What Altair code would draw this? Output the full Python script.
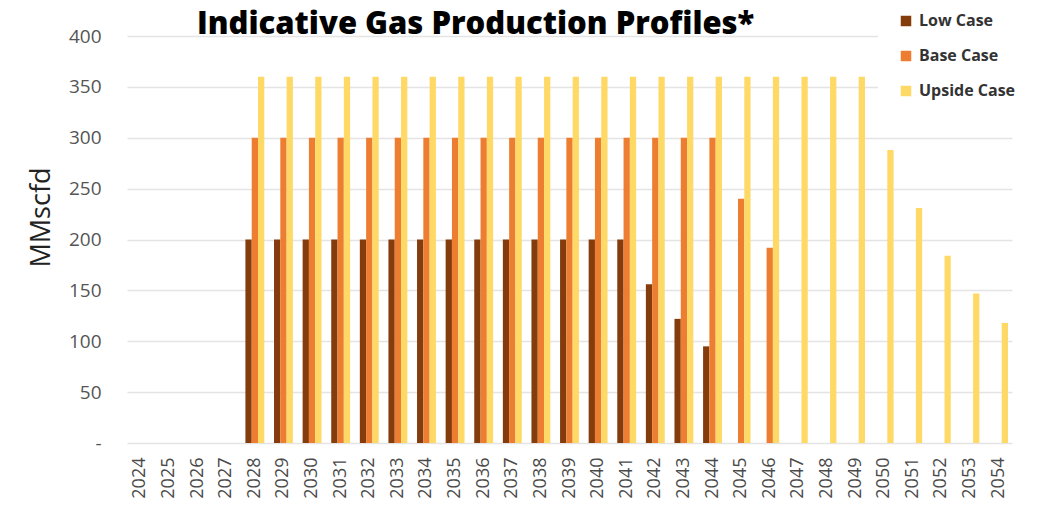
import altair as alt
import pandas as pd

chart_title = "Indicative Gas Production Profiles*"
years = [str(y) for y in range(2024, 2055)]
low_case = [None, None, None, None, 200, 200, 200, 200, 200, 200, 200, 200, 200, 200, 200, 200, 200, 200,
            156, 122, 95, None, None, None, None, None, None, None, None, None, None]
base_case = [None, None, None, None, 300, 300, 300, 300, 300, 300, 300, 300, 300, 300, 300, 300, 300, 300,
             300, 300, 300, 240, 192, None, None, None, None, None, None, None, None]
upside_case = [None, None, None, None, 360, 360, 360, 360, 360, 360, 360, 360, 360, 360, 360, 360, 360, 360,
               360, 360, 360, 360, 360, 360, 360, 360, 288, 231, 184, 147, 118]

series = ["Low Case", "Base Case", "Upside Case"]
colors = ["#843C0C", "#ED7D31", "#FFD966"]

rows = []
for name, vals in zip(series, [low_case, base_case, upside_case]):
    for y, v in zip(years, vals):
        rows.append({"Year": y, "Case": name, "Value": v})
df = pd.DataFrame(rows)
# keep all years for the axis: missing values plotted as zero-height bars
df["Value"] = df["Value"].fillna(0)

bars = alt.Chart(df).mark_bar().encode(
    x=alt.X("Year:N", sort=years,
            scale=alt.Scale(paddingInner=0.34, paddingOuter=0.14),
            axis=alt.Axis(title=None, labelAngle=-90, labelFontSize=18, labelFont="Open Sans",
                          labelColor="#4a4a4a", labelPadding=14, ticks=False, domain=False,
                          grid=False, labelBaseline="middle", labelAlign="right")),
    xOffset=alt.XOffset("Case:N", sort=series),
    y=alt.Y("Value:Q", scale=alt.Scale(domain=[0, 400], nice=False),
            axis=alt.Axis(title="MMscfd", values=list(range(0, 401, 50)),
                          labelExpr="datum.value == 0 ? '-' : datum.label",
                          labelFontSize=19, labelFont="Open Sans", labelColor="#555555",
                          labelPadding=26, ticks=False, domain=False,
                          gridColor="#e4e4e4", gridWidth=1.5,
                          titleFontSize=27, titleFont="Open Sans", titleFontWeight="normal",
                          titleColor="#222222", titlePadding=13, titleY=181)),
    color=alt.Color("Case:N", sort=series,
                    scale=alt.Scale(domain=series, range=colors),
                    legend=alt.Legend(title=None, orient="none", legendX=751, legendY=-43,
                                      padding=20, fillColor="white", symbolType="square",
                                      symbolSize=110, symbolStrokeWidth=0,
                                      labelFontSize=16, labelFont="Open Sans",
                                      labelFontWeight="bold", labelColor="#333333",
                                      rowPadding=19, labelOffset=5)),
)

title_text = alt.Chart(pd.DataFrame({"t": [chart_title]})).mark_text(
    align="left", baseline="alphabetic", fontSize=31, font="Open Sans", fontWeight=800,
    color="#000000"
).encode(text="t:N", x=alt.value(70), y=alt.value(-2))

chart = alt.layer(bars, title_text).properties(
    width=885,
    height=407,
    autosize=alt.AutoSizeParams(type="none"),
    padding={"left": 119, "top": 28, "right": 18, "bottom": 55},
).configure(background="white").configure_view(stroke=None)

chart.save("out.html", embed_options={"renderer": "svg", "actions": False})
